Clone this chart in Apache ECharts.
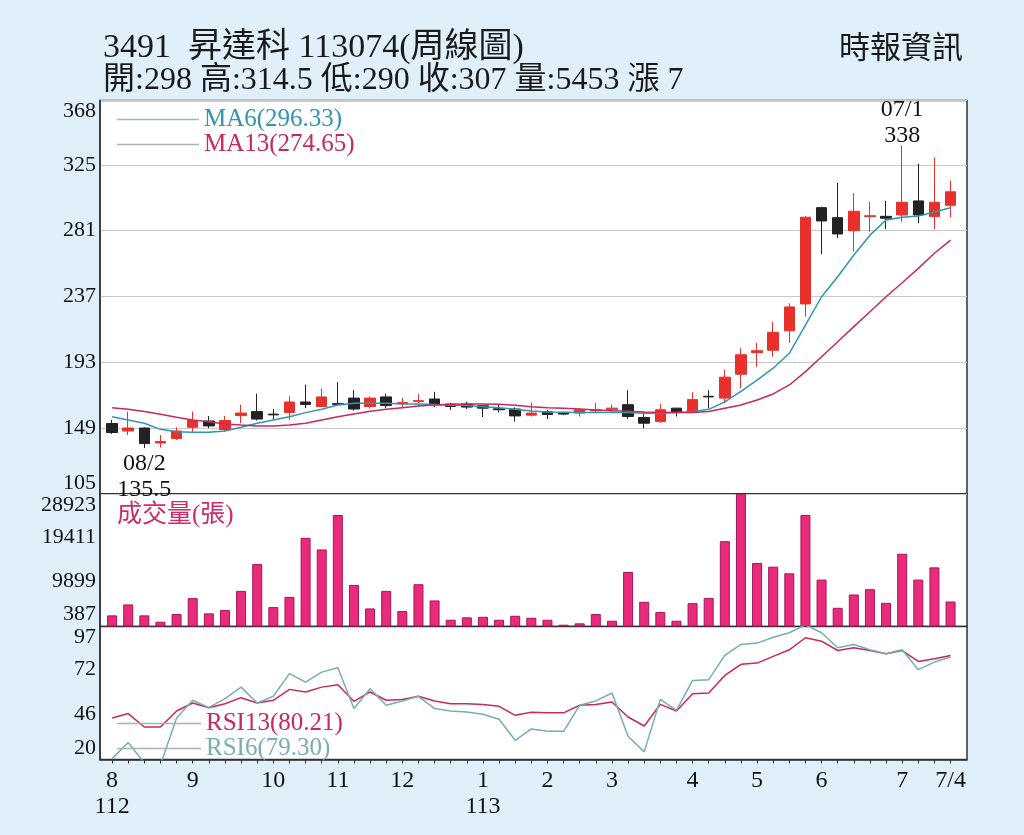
<!DOCTYPE html>
<html>
<head>
<meta charset="utf-8">
<script src="https://cdn.jsdelivr.net/npm/echarts@6/dist/echarts.min.js"></script>
<style>
html,body{margin:0;padding:0;background:#dff0fb;}
#c{width:1024px;height:835px;}
</style>
</head>
<body>
<div id="c"></div>
<script>
// ---- data (weekly candles, 53 weeks) ----
const openP  = [152,147,149,139,142,149.5,153.7,148,157.3,160,158.3,159.4,166.4,163.4,165.3,169,163.4,169.8,165.3,166.8,168.4,165,165,163.9,161.9,161.7,157.6,159.8,159,159,160.5,161.2,164.6,156,153.3,162.3,160,170.2,169,185,199.4,201,214,232,296.4,289.7,281,290.4,290.6,291.5,300.9,290.4,298];
const closeP = [146,149,138.6,140,147,154,150.4,154,159,155,157.8,166.4,164.8,169.8,164.8,161.7,169,164.1,166.1,167.3,164.6,163.4,163,162.3,161.2,157.1,159,158,158.3,161.2,161.2,162.3,156.7,152.2,161.2,159.4,168,169.8,183,198,200.7,213,230,290,287.5,278.8,294,291,289.3,300,291.5,300,307];
const lowP   = [145,144.3,135.5,136,141,146,148.8,146.5,152.2,154,155,154.4,162.3,163,164,160.7,162,162.3,162.3,164,163,161.2,161.7,156.3,159.4,153.3,156.7,155,157.6,156.7,159.4,160,155,148.8,152.6,156.7,159.4,162.3,165.5,175.6,190,196.7,206,223.5,265.4,276,267,280.3,282,287,286,282,290];
const highP  = [154.4,160,149.5,144.3,149.5,160,157,157,164.6,172,161.7,170.2,178,175.2,179.7,174.3,170,172,169,171.8,173.2,165.7,166.6,164,164.8,162.8,166,161.2,159.8,162,165.7,164.6,174.3,160,165,162.5,173,174.3,188,202.3,206,220,232.4,290.5,297,313,306,300.4,301,338,325.6,330,314.5];
const ma6    = [156.6,154.4,152.2,148.1,146.5,146.1,146.1,147,149.5,152.2,154.4,156.6,159.3,161.5,164.4,165.5,165.5,165.5,165,165,164.7,164.2,164,163.3,162.6,161.5,160.4,159.7,159.5,159.3,159.3,159.3,159.3,158.8,158.8,159.3,159.9,161.5,166.5,173.5,181,189,199,217.9,236.8,250.2,264.7,278,288.1,290,290.8,293.5,296.33];
const ma13   = [162.6,161.5,160,158.2,156.2,154.4,153.2,151.7,151,150.4,150.4,151,152.2,154.4,156.6,158.4,160.2,161.5,162.6,163.7,164.4,164.9,165,165,164.9,164.2,163.3,162.6,162.2,161.8,161.1,160.6,160.2,159.7,159.5,159.3,159.3,160,162.2,164.4,167.7,171.8,177.8,186.7,196.7,206.7,216.8,226.8,236.8,246.2,255.8,265.9,274.65];
const volume = [2430,4810,2430,1040,2710,6180,2860,3580,7760,13610,4230,6460,19330,16790,24310,9060,3940,7760,3360,9210,5680,1470,1990,2120,1470,2340,1910,1470,387,690,2710,1260,11880,5380,3140,1260,5090,6240,18590,28923,13830,13040,11590,24310,10230,4070,6980,8130,5160,15860,10230,12890,5453];
const rsi13  = [44,46.6,38.8,38.8,48.1,52.7,50,52.3,55.8,52.7,54.3,60.6,59.1,61.9,63.3,53.7,59.1,54.3,54.8,56.6,53.9,52.3,52.3,51.9,50.8,45.6,47.3,47,47,51.4,51.9,53.3,44.6,39.4,51.9,48.1,58.1,58.5,68.7,75.1,75.8,79.7,83.5,90.5,88.5,83.1,84.7,83.1,81.2,83.1,76.8,78.3,80.21];
const rsi6   = [20.5,29.8,18,17,44,54.3,50,55.2,61.9,52.7,56.6,69.7,64.8,70.6,73.1,49.5,61,51.4,53.9,56.6,49.5,48.1,47.5,46.2,43.3,31.1,37.7,36.3,36.3,51.4,53.9,58.5,33.5,24.4,54.8,48.5,65.8,66.2,80.3,86.6,87.4,90.8,93.4,98,93.4,84.7,86.6,83.5,81.2,83.5,72,76.4,79.30];

// tick labels
const xLabelIdx  = [0,5,10,14,18,23,27,31,36,40,44,49,52];
const xLabelText = ['8\n112','9','10','11','12','1\n113','2','3','4','5','6','7','7/4'];
const priceTicks = [105,149,193,237,281,325,368];
const volTicks   = [387,9899,19411,28923];
const rsiTicks   = [20,46,72,97];
const legendVals = {MA6:'296.33', MA13:'274.65', RSI13:'80.21', RSI6:'79.30'};

const weekIdx = openP.map((_, i) => i);
const allTicks = weekIdx.slice();

const SERIF = "'Liberation Serif','Noto Sans CJK TC',serif";
const C_RED = '#e8302c', C_BLK = '#222222', C_TEAL = '#2f96ad', C_MAG = '#c8285e';
const C_VOL = '#ea2a7b', C_RSI6 = '#78adb3';

const candleData = weekIdx.map(i => [i, openP[i], closeP[i], lowP[i], highP[i]]);
const pair = arr => weekIdx.map(i => [i, arr[i]]);

const chart = echarts.init(document.getElementById('c'), null, {renderer:'canvas'});

const xBase = {type:'value', min:-0.75, max:53.02, splitLine:{show:false}};
const yLabel = {fontSize:22, color:'#111', fontFamily:SERIF, margin:4,
  verticalAlignMinLabel:'bottom', verticalAlignMaxLabel:'top'};
const yLine = {show:true, onZero:false, lineStyle:{color:'#333', width:1.5}};

chart.setOption({
  animation:false,
  backgroundColor:'#dff0fb',
  title:[
    {text:'3491  昇達科 113074(周線圖)', left:98, top:26,
     textStyle:{fontSize:34, fontWeight:'normal', color:'#1a1a1a', fontFamily:SERIF}},
    {text:'開:298 高:314.5 低:290 收:307 量:5453 漲 7', left:98, top:60,
     textStyle:{fontSize:32, fontWeight:'normal', color:'#1a1a1a', fontFamily:SERIF}},
    {text:'時報資訊', right:56, top:26,
     textStyle:{fontSize:31, fontWeight:'normal', color:'#1a1a1a', fontFamily:"'Noto Sans CJK TC',sans-serif"}},
    {text:'成交量(張)', left:112, top:498,
     textStyle:{fontSize:25, fontWeight:'normal', color:'#d02a6a', fontFamily:SERIF}}
  ],
  legend:[
    {orient:'vertical', left:112, top:102, itemWidth:82, itemHeight:1.5, icon:'rect', itemGap:0,
     selectedMode:false, itemStyle:{color:'#a9b3b6'},
     textStyle:{fontSize:25, fontFamily:SERIF},
     data:[{name:'MA6', textStyle:{color:C_TEAL}}, {name:'MA13', textStyle:{color:C_MAG}}],
     formatter: n => n + '(' + legendVals[n] + ')'},
    {orient:'vertical', left:112, top:706, itemWidth:84, itemHeight:1.5, icon:'rect', itemGap:0,
     selectedMode:false, itemStyle:{color:'#a9b3b6'},
     textStyle:{fontSize:25, fontFamily:SERIF},
     data:[{name:'RSI13', textStyle:{color:C_MAG}}, {name:'RSI6', textStyle:{color:C_RSI6}}],
     formatter: n => n + '(' + legendVals[n] + ')'}
  ],
  grid:[
    {left:100, right:57, top:100.6, height:393.2, show:true, backgroundColor:'#fff', borderColor:'#333', borderWidth:1.5},
    {left:100, right:57, top:493.8, height:132.7, show:true, backgroundColor:'#fff', borderColor:'#333', borderWidth:1.5},
    {left:100, right:57, top:626.5, height:133, show:true, backgroundColor:'#fff', borderColor:'#333', borderWidth:1.5}
  ],
  xAxis:[
    Object.assign({gridIndex:0, show:false}, xBase),
    Object.assign({gridIndex:1, show:false}, xBase),
    Object.assign({gridIndex:2,
      axisLine:{show:true, onZero:false, lineStyle:{color:'#333', width:1.5}},
      axisTick:{show:true, length:4, customValues:allTicks, lineStyle:{color:'#333'}},
      axisLabel:{show:true, customValues:xLabelIdx, fontSize:24, lineHeight:26, color:'#111', fontFamily:SERIF, margin:8,
        formatter: v => { const k = xLabelIdx.indexOf(Math.round(v)); return k >= 0 ? xLabelText[k] : ''; }}
    }, xBase)
  ],
  yAxis:[
    {gridIndex:0, type:'value', min:105, max:368, interval:44,
     axisLine:yLine, axisTick:{show:false},
     splitLine:{show:true, lineStyle:{color:'#c8c8c8', width:1.2}},
     axisLabel:Object.assign({}, yLabel, {formatter: v => {
        let best = priceTicks[0]; priceTicks.forEach(t => { if (Math.abs(t - v) < Math.abs(best - v)) best = t; }); return String(best); }})},
    {gridIndex:1, type:'value', min:0, max:28923,
     axisLine:yLine, axisTick:{show:false}, splitLine:{show:false},
     axisLabel:Object.assign({}, yLabel, {customValues:volTicks, formatter: v => String(Math.round(v))})},
    {gridIndex:2, type:'value', min:20, max:97,
     axisLine:yLine, axisTick:{show:false}, splitLine:{show:false},
     axisLabel:Object.assign({}, yLabel, {customValues:rsiTicks, formatter: v => String(Math.round(v))})}
  ],
  series:[
    {name:'K', type:'candlestick', xAxisIndex:0, yAxisIndex:0, data:candleData,
     encode:{x:0, y:[1,2,3,4]}, barWidth:11,
     itemStyle:{color:C_RED, color0:C_BLK, borderColor:C_RED, borderColor0:C_BLK, borderWidth:1},
     markPoint:{symbol:'circle', symbolSize:1, itemStyle:{color:'rgba(0,0,0,0)'},
       data:[
         {coord:[49, 338], label:{show:true, position:'top', distance:0, offset:[0,4], formatter:'07/1\n338',
           fontSize:24, lineHeight:26, color:'#111', fontFamily:SERIF}},
         {coord:[2, 135.5], label:{show:true, position:'bottom', distance:2, formatter:'08/2\n135.5',
           fontSize:24, lineHeight:26, color:'#111', fontFamily:SERIF}}
       ]}},
    {name:'MA6', type:'line', xAxisIndex:0, yAxisIndex:0, data:pair(ma6), symbol:'none',
     lineStyle:{color:C_TEAL, width:1.5}, itemStyle:{color:C_TEAL}},
    {name:'MA13', type:'line', xAxisIndex:0, yAxisIndex:0, data:pair(ma13), symbol:'none',
     lineStyle:{color:C_MAG, width:1.5}, itemStyle:{color:C_MAG}},
    {name:'VOL', type:'bar', xAxisIndex:1, yAxisIndex:1, data:pair(volume), barWidth:10,
     itemStyle:{color:C_VOL, borderColor:'#a3175a', borderWidth:1}},
    {name:'RSI13', type:'line', xAxisIndex:2, yAxisIndex:2, data:pair(rsi13), symbol:'none',
     lineStyle:{color:C_MAG, width:1.5}, itemStyle:{color:C_MAG}},
    {name:'RSI6', type:'line', xAxisIndex:2, yAxisIndex:2, data:pair(rsi6), symbol:'none',
     lineStyle:{color:C_RSI6, width:1.5}, itemStyle:{color:C_RSI6}}
  ]
});
</script>
</body>
</html>
